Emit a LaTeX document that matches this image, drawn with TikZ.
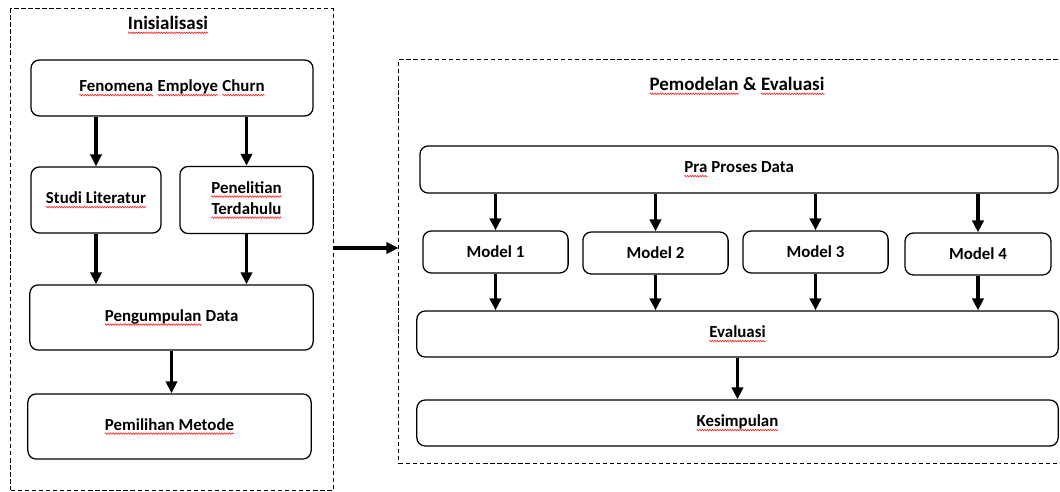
\documentclass[tikz,border=0pt]{standalone}
\usepackage{fontspec}
\setmainfont{Carlito}
\usepackage{tikz}
\usetikzlibrary{arrows.meta,decorations.pathmorphing}

% red wavy spell-check underline
\newcommand{\sq}[1]{\tikz[baseline=(w.base), sharp corners]{\node[inner sep=0pt, outer sep=0pt, minimum width=0pt,
    minimum height=0pt, draw=none, rectangle] (w) {#1};
  \draw[red!85, line width=0.45pt, sharp corners, decorate, decoration={zigzag, amplitude=0.55pt, segment length=1.8pt}]
    ([yshift=-2.4pt]w.base west) -- ([yshift=-2.4pt]w.base east);}}

\tikzset{
  box/.style={draw, rounded corners=6pt, line width=0.9pt, align=center, inner sep=2pt},
  frame/.style={draw, line width=0.7pt, dash pattern=on 3pt off 2pt},
  arr/.style={-{Triangle[length=8.5pt,width=8pt]}, line width=2.2pt},
  title/.style={font=\fontsize{13.5}{16}\selectfont\bfseries},
}

\begin{document}
\begin{tikzpicture}[x=0.025cm, y=-0.025cm, font=\fontsize{12}{15}\selectfont\bfseries]
  \useasboundingbox (0,0) rectangle (1060,492);

  % Inisialisasi
  \node[frame, minimum width=8.05cm, minimum height=12.03cm] (leftframe) at (172,249.5) {};
  \node[title] (inittitle) at (168,25) {\sq{Inisialisasi}};
  \node[box, minimum width=7.05cm, minimum height=1.4cm] (fen) at (172,88) {\sq{Fenomena} \sq{Employe} \sq{Churn}};
  \node[box, minimum width=3.25cm, minimum height=1.65cm] (studi) at (96,200) {\sq{Studi Literatur}};
  \node[box, minimum width=3.33cm, minimum height=1.68cm] (pen) at (246.5,200) {\sq{Penelitian}\\\sq{Terdahulu}};
  \node[box, minimum width=7.08cm, minimum height=1.63cm] (peng) at (171.5,317.5) {\sq{Pengumpulan} Data};
  \node[box, minimum width=7.08cm, minimum height=1.63cm] (pem) at (169.5,426.5) {\sq{Pemilihan Metode}};

  \draw[arr] (studi.north |- fen.south) -- (studi.north);
  \draw[arr] (pen.north |- fen.south) -- (pen.north);
  \draw[arr] (studi.south) -- (studi.south |- peng.north);
  \draw[arr] (pen.south) -- (pen.south |- peng.north);
  \draw[arr] (peng.south) -- (peng.south |- pem.north);

  % Pemodelan & Evaluasi
  \node[frame, minimum width=16.9cm, minimum height=10.075cm] (rightframe) at (737,261.5) {};
  \node[title] (modtitle) at (737,86) {\sq{Pemodelan} \& \sq{Evaluasi}};
  \node[box, minimum width=15.95cm, minimum height=1.18cm] (pra) at (739,169.5) {\sq{Pra} Proses Data};
  \node[box, minimum width=3.63cm, minimum height=1.05cm] (m1) at (495.5,252) {Model 1};
  \node[box, minimum width=3.63cm, minimum height=1.05cm] (m2) at (655.5,253) {Model 2};
  \node[box, minimum width=3.63cm, minimum height=1.05cm] (m3) at (815.5,252) {Model 3};
  \node[box, minimum width=3.65cm, minimum height=1.05cm] (m4) at (978,254) {Model 4};
  \node[box, minimum width=16.03cm, minimum height=1.15cm] (eval) at (737.5,334) {\sq{Evaluasi}};
  \node[box, minimum width=16.03cm, minimum height=1.15cm] (kes) at (737.5,423) {\sq{Kesimpulan}};

  \foreach \m in {m1,m2,m3,m4} {
    \draw[arr] (\m.north |- pra.south) -- (\m.north);
    \draw[arr] (\m.south) -- (\m.south |- eval.north);
  }
  \draw[arr] (eval.south) -- (kes.north);

  \coordinate (mid) at (0,248);
  \draw[arr] (leftframe.east |- mid) -- (rightframe.west |- mid);
\end{tikzpicture}
\end{document}
